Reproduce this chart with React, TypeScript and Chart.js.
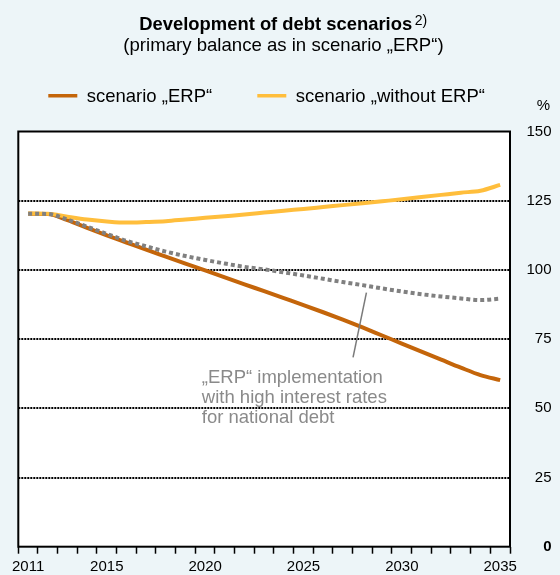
import React, { useEffect, useRef } from "react";
import { Chart, registerables } from "chart.js";

Chart.register(...registerables);

const YEARS = [
  "2011", "2012", "2013", "2014", "2015", "2016", "2017", "2018", "2019", "2020",
  "2021", "2022", "2023", "2024", "2025", "2026", "2027", "2028", "2029", "2030",
  "2031", "2032", "2033", "2034", "2035",
];
const SHOWN_YEAR_LABELS = ["2011", "2015", "2020", "2025", "2030", "2035"];

const ERP = [
  120.3, 120.2, 118.0, 115.2, 112.5, 109.9, 107.3, 104.8, 102.3, 99.8,
  97.3, 94.8, 92.3, 89.8, 87.3, 84.7, 82.0, 79.2, 76.3, 73.4,
  70.5, 67.6, 64.7, 62.0, 60.2,
];
const WITHOUT_ERP = [
  120.4, 120.3, 119.2, 118.2, 117.5, 117.1, 117.3, 117.6, 118.2, 118.8,
  119.4, 120.0, 120.7, 121.4, 122.0, 122.7, 123.4, 124.1, 124.8, 125.5,
  126.3, 127.1, 127.9, 128.6, 130.7,
];
const HIGH_INTEREST = [
  120.3, 120.2, 118.2, 115.6, 113.0, 110.5, 108.5, 106.6, 105.0, 103.6,
  102.3, 101.1, 100.2, 99.1, 98.0, 96.8, 95.6, 94.5, 93.3, 92.2,
  91.2, 90.4, 89.7, 89.1, 89.6,
];

const SERIES_LABELS = ["scenario „ERP“", "scenario „without ERP“", "„ERP“ implementation with high interest rates for national debt"];
const TITLE = "Development of debt scenarios";
const TITLE_SUP = "2)";
const SUBTITLE = "(primary balance as in scenario „ERP“)";
const UNIT = "%";
const ANNOTATION_LINES = ["„ERP“ implementation", "with high interest rates", "for national debt"];

const Y_MIN = 0;
const Y_MAX = 150;
const Y_STEP = 25;

const FONT = "'Liberation Sans', Arial, Helvetica, sans-serif";
const BG = "#EDF5F8";
const ORANGE = "#C4650A";
const YELLOW = "#FFBE3C";
const GRAY = "#808080";
const TEXT_GRAY = "#8A8A8A";

const decorPlugin = {
  id: "decor",
  beforeDraw(chart: any) {
    const { ctx, chartArea, width, height } = chart;
    ctx.save();
    ctx.fillStyle = BG;
    ctx.fillRect(0, 0, width, height);
    ctx.fillStyle = "#FFFFFF";
    ctx.fillRect(chartArea.left, chartArea.top, chartArea.right - chartArea.left, chartArea.bottom - chartArea.top);
    ctx.restore();
  },
  beforeDatasetsDraw(chart: any) {
    const { ctx, chartArea } = chart;
    ctx.save();
    ctx.strokeStyle = "#000000";
    ctx.lineWidth = 2;
    ctx.strokeRect(chartArea.left, chartArea.top, chartArea.right - chartArea.left, chartArea.bottom - chartArea.top);
    ctx.restore();
  },
  afterDraw(chart: any) {
    const { ctx } = chart;
    const xs = chart.scales.x;
    const ys = chart.scales.y;
    ctx.save();
    // Title
    ctx.fillStyle = "#000000";
    ctx.textBaseline = "alphabetic";
    ctx.textAlign = "left";
    ctx.font = `bold 18.4px ${FONT}`;
    ctx.fillText(TITLE, 139.3, 30);
    const tw = ctx.measureText(TITLE).width;
    ctx.font = `14px ${FONT}`;
    ctx.fillText(TITLE_SUP, 139.3 + tw + 2.5, 24.5);
    // Subtitle
    ctx.font = `18.6px ${FONT}`;
    ctx.fillText(SUBTITLE, 123.3, 50.8);
    // Legend
    const legendItems = [
      { x: 48.3, color: chart.data.datasets[0].borderColor, text: chart.data.datasets[0].label },
      { x: 257.3, color: chart.data.datasets[1].borderColor, text: chart.data.datasets[1].label },
    ];
    legendItems.forEach((it) => {
      ctx.fillStyle = it.color;
      ctx.fillRect(it.x, 94, 29, 3.5);
      ctx.fillStyle = "#000000";
      ctx.font = `18.5px ${FONT}`;
      ctx.fillText(it.text, it.x + 38.4, 102);
    });
    // Unit
    ctx.font = `15px ${FONT}`;
    ctx.textAlign = "right";
    ctx.fillText(UNIT, 550, 110);
    // Annotation leader line
    ctx.strokeStyle = "#7A7A7A";
    ctx.lineWidth = 1.5;
    ctx.beginPath();
    ctx.moveTo(xs.getPixelForValue(17.2), ys.getPixelForValue(91.8));
    ctx.lineTo(xs.getPixelForValue(16.52), ys.getPixelForValue(68.4));
    ctx.stroke();
    // Annotation text
    ctx.fillStyle = TEXT_GRAY;
    ctx.textAlign = "left";
    ctx.font = `18.5px ${FONT}`;
    const tx = xs.getPixelForValue(8.83);
    const ty = ys.getPixelForValue(59.0);
    ANNOTATION_LINES.forEach((line, i) => {
      ctx.fillText(line, tx, ty + i * 20);
    });
    ctx.restore();
  },
};

export default function App() {
  const canvasRef = useRef<HTMLCanvasElement | null>(null);

  useEffect(() => {
    document.body.style.margin = "0";
    document.body.style.background = BG;
    const canvas = canvasRef.current;
    if (!canvas) return;
    const chart = new Chart(canvas, {
      type: "line",
      data: {
        labels: YEARS,
        datasets: [
          {
            label: SERIES_LABELS[0],
            data: ERP,
            borderColor: ORANGE,
            backgroundColor: ORANGE,
            borderWidth: 4,
            pointRadius: 0,
            cubicInterpolationMode: "monotone",
            order: 2,
          },
          {
            label: SERIES_LABELS[1],
            data: WITHOUT_ERP,
            borderColor: YELLOW,
            backgroundColor: YELLOW,
            borderWidth: 4,
            pointRadius: 0,
            cubicInterpolationMode: "monotone",
            order: 1,
          },
          {
            label: SERIES_LABELS[2],
            data: HIGH_INTEREST,
            borderColor: GRAY,
            backgroundColor: GRAY,
            borderWidth: 4,
            borderDash: [4, 3],
            borderCapStyle: "butt",
            pointRadius: 0,
            cubicInterpolationMode: "monotone",
            order: 0,
          },
        ],
      },
      options: {
        responsive: false,
        animation: false,
        layout: { padding: { top: 131.5, left: 18.3, right: 8.5, bottom: 0 } },
        plugins: {
          legend: { display: false },
          title: { display: false },
          tooltip: { enabled: false },
        },
        scales: {
          x: {
            type: "category",
            offset: true,
            afterFit: (scale: any) => {
              scale.height = 28.3;
            },
            border: { display: false },
            grid: {
              offset: true,
              drawOnChartArea: false,
              drawTicks: true,
              tickLength: 7,
              tickColor: "#000000",
              tickWidth: 1.5,
              color: "#000000",
            },
            ticks: {
              autoSkip: false,
              maxRotation: 0,
              padding: 4,
              color: "#000000",
              font: { family: FONT, size: 15 },
              callback: function (this: any, value: any) {
                const lbl = this.getLabelForValue(value);
                return SHOWN_YEAR_LABELS.includes(lbl) ? lbl : "";
              },
            },
          },
          y: {
            position: "right",
            min: Y_MIN,
            max: Y_MAX,
            afterFit: (scale: any) => {
              scale.width = 41.5;
            },
            border: { display: false, dash: [2, 1] },
            grid: {
              drawTicks: false,
              lineWidth: 2,
              color: (c: any) =>
                c.tick && (c.tick.value === Y_MIN || c.tick.value === Y_MAX) ? "rgba(0,0,0,0)" : "#000000",
            },
            ticks: {
              stepSize: Y_STEP,
              crossAlign: "far",
              padding: 8,
              color: "#000000",
              font: (c: any) => ({
                family: FONT,
                size: 15,
                weight: c.tick && c.tick.value === 0 ? "bold" : "normal",
              }),
            },
          },
        },
      },
      plugins: [decorPlugin],
    } as any);
    return () => chart.destroy();
  }, []);

  return (
    <div style={{ width: 560, height: 575, background: BG }}>
      <canvas ref={canvasRef} width={560} height={575} style={{ display: "block" }} />
    </div>
  );
}
